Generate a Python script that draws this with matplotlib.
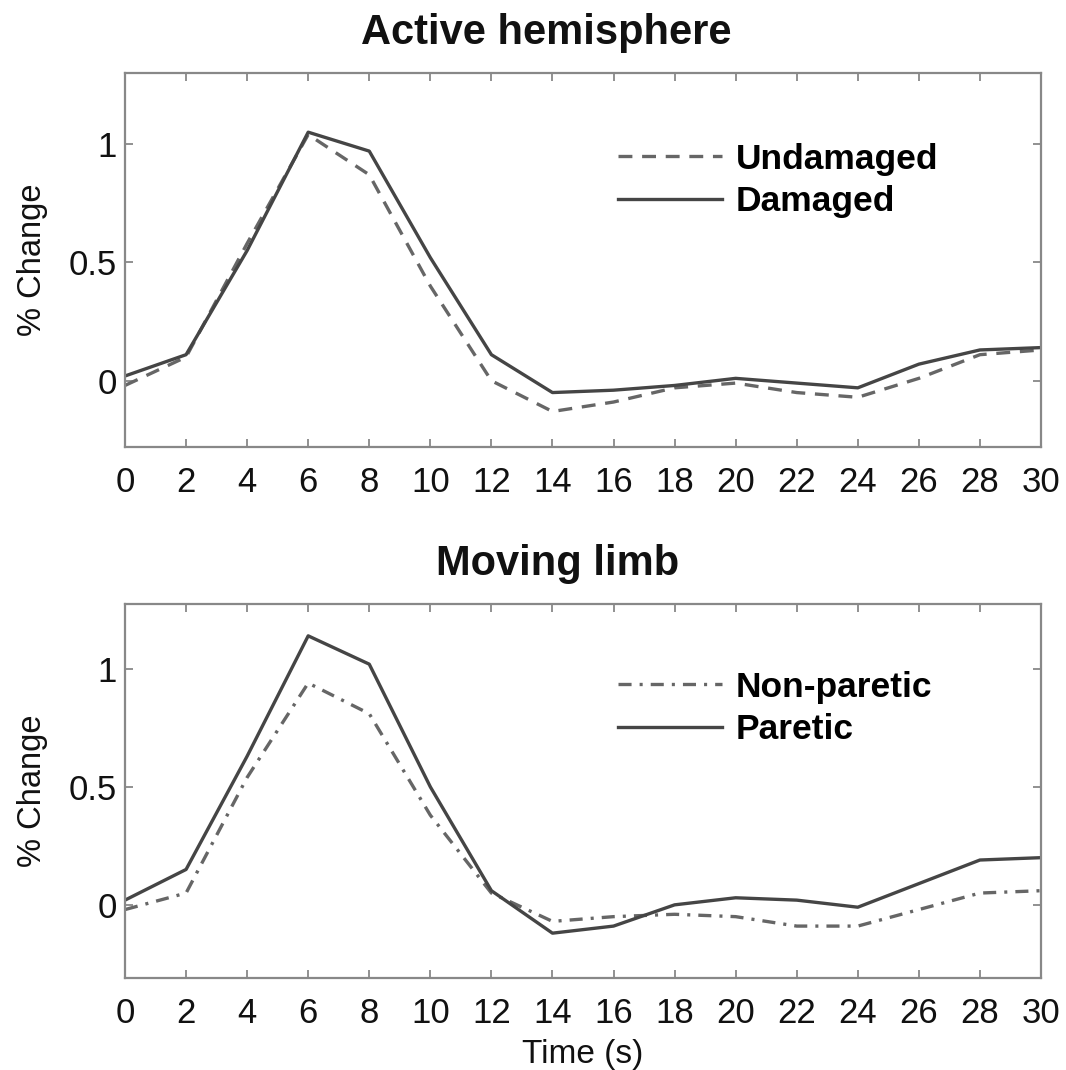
import matplotlib
matplotlib.use("Agg")
import matplotlib.pyplot as plt

plt.rcParams['font.family'] = ['Liberation Sans', 'DejaVu Sans']
plt.rcParams['lines.scale_dashes'] = False

time = [0, 2, 4, 6, 8, 10, 12, 14, 16, 18, 20, 22, 24, 26, 28, 30]

undamaged = [-0.02, 0.10, 0.58, 1.04, 0.87, 0.40, 0.00, -0.13, -0.09, -0.03, -0.01, -0.05, -0.07, 0.01, 0.11, 0.13]
damaged = [0.02, 0.11, 0.55, 1.05, 0.97, 0.52, 0.11, -0.05, -0.04, -0.02, 0.01, -0.01, -0.03, 0.07, 0.13, 0.14]

non_paretic = [-0.02, 0.05, 0.54, 0.94, 0.81, 0.38, 0.05, -0.07, -0.05, -0.04, -0.05, -0.09, -0.09, -0.02, 0.05, 0.06]
paretic = [0.02, 0.15, 0.63, 1.14, 1.02, 0.50, 0.06, -0.12, -0.09, 0.00, 0.03, 0.02, -0.01, 0.09, 0.19, 0.20]

xticks = list(range(0, 31, 2))
yticks = [0, 0.5, 1]
ytick_labels = ['0', '0.5', '1']

W, H = 1066, 1070
fig = plt.figure(figsize=(W / 100, H / 100), dpi=100)

ax1 = fig.add_axes([125 / W, 1 - 447 / H, 916 / W, 374 / H])
ax2 = fig.add_axes([125 / W, 1 - 978 / H, 916 / W, 374 / H])

solid_c = '#454545'
dash_c = '#666666'
lw = 2.4

ax1.plot(time, undamaged, color=dash_c, lw=lw, linestyle=(0, (10, 7)), label='Undamaged')
ax1.plot(time, damaged, color=solid_c, lw=lw, label='Damaged')

ax2.plot(time, non_paretic, color=dash_c, lw=lw, linestyle=(0, (9.4, 5.8, 2.2, 5.8)), label='Non-paretic')
ax2.plot(time, paretic, color=solid_c, lw=lw, label='Paretic')

setup = [
    (ax1, (-0.28, 1.3), 'Active hemisphere', 0.46, 0.852),
    (ax2, (-0.31, 1.275), 'Moving limb', 0.472, 0.86),
]
for ax, ylim, title, tx, ly in setup:
    ax.set_xlim(0, 30)
    ax.set_ylim(*ylim)
    ax.set_xticks(xticks)
    ax.set_xticklabels([str(t) for t in xticks])
    ax.set_yticks(yticks)
    ax.set_yticklabels(ytick_labels)
    ax.tick_params(direction='in', length=6, width=1.3, color='#888888', top=True, right=True,
                   labelsize=25, labelcolor='#111111')
    ax.tick_params(axis='y', pad=6)
    ax.tick_params(axis='x', pad=14)
    for s in ax.spines.values():
        s.set_color('#888888')
        s.set_linewidth(1.6)
    ax.set_ylabel('% Change', fontsize=23.5, labelpad=15, color='#111111')
    ax.set_title(title, fontsize=30, fontweight='bold', pad=21, color='#111111', x=tx)
    leg = ax.legend(loc='upper left', bbox_to_anchor=(0.523, ly), frameon=False,
                    prop={'size': 25.5, 'weight': 'bold'}, handlelength=2.94,
                    handletextpad=0.37, labelspacing=0.27, borderaxespad=0)

ax2.set_xlabel('Time (s)', fontsize=24, labelpad=6, color='#111111')

fig.savefig('out.png', dpi=100, facecolor='white')
